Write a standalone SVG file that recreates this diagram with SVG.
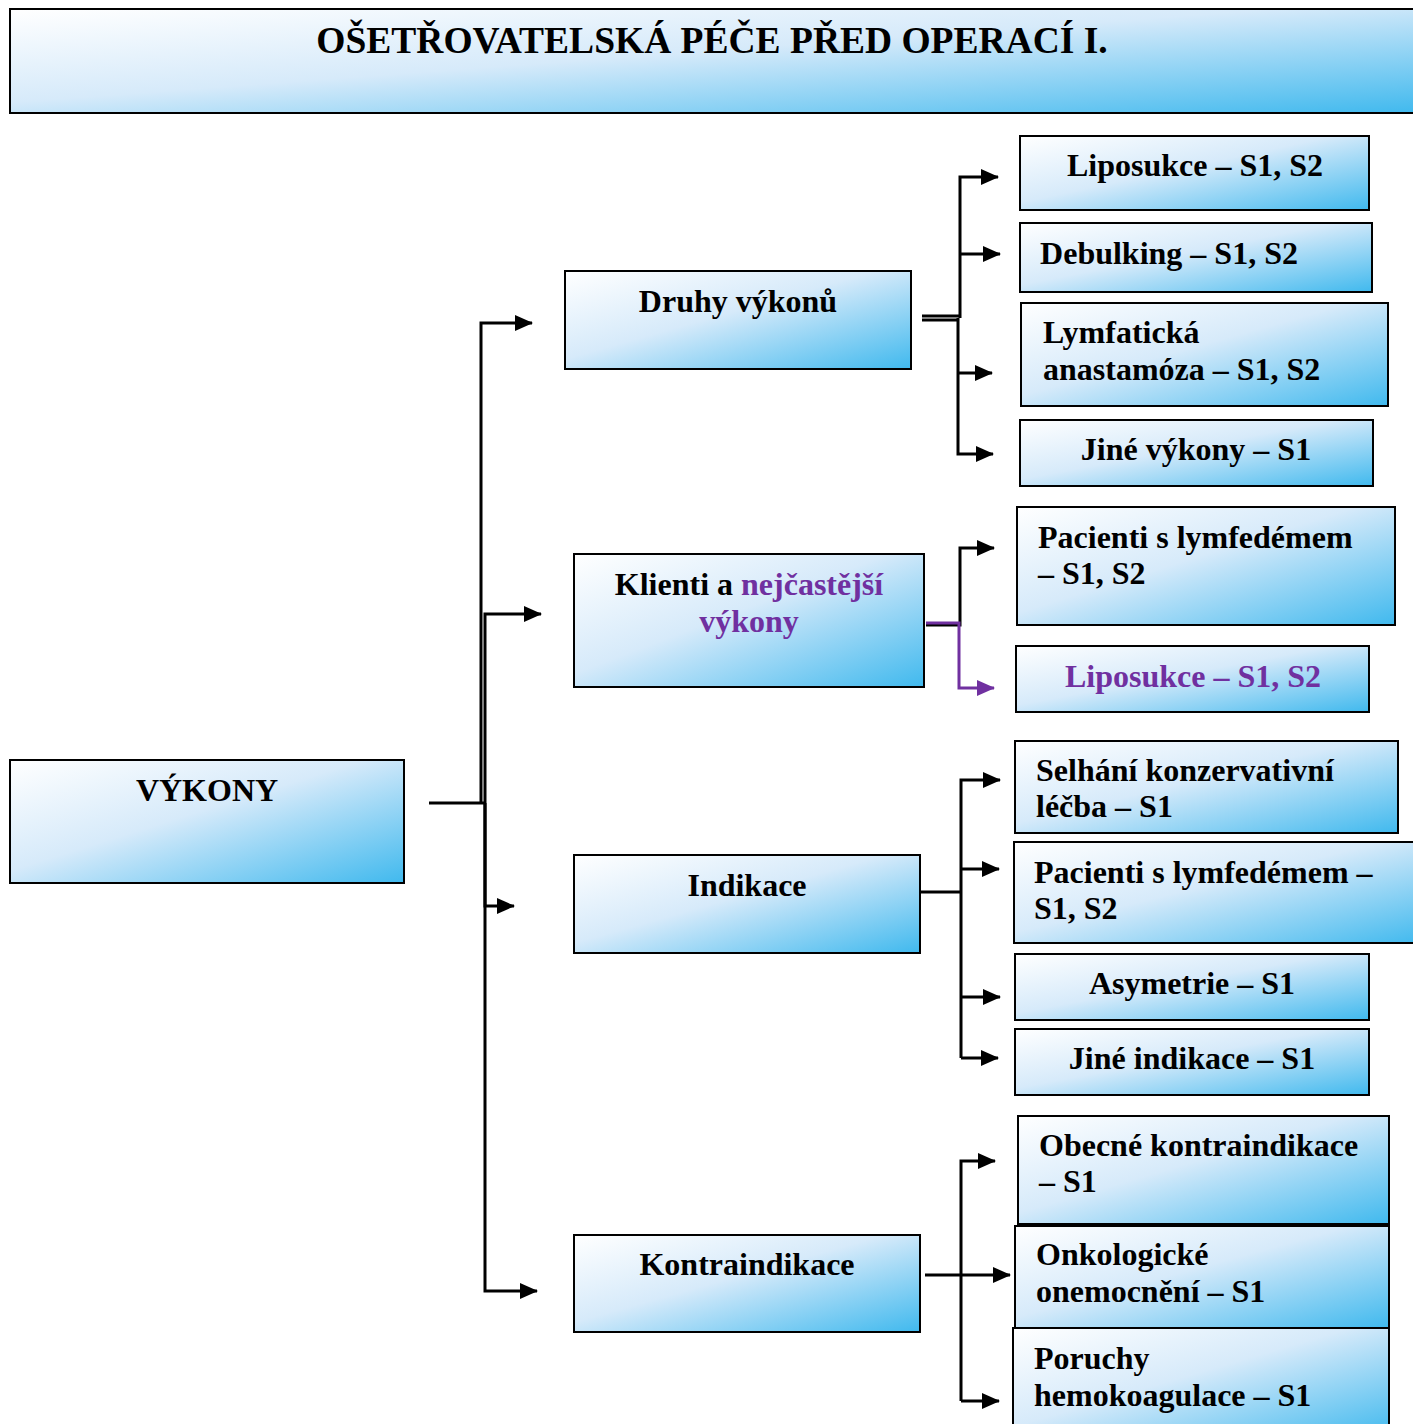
<svg xmlns="http://www.w3.org/2000/svg" width="1413" height="1424" viewBox="0 0 1413 1424">
<style>
.box{fill:url(#g);stroke:#000;stroke-width:2}
.t{font-family:"Liberation Serif","Times New Roman",serif;font-weight:bold;font-size:32px;fill:#000}
.c{text-anchor:middle}
.p{fill:#7030A0}
.ln{fill:none;stroke:#000;stroke-width:3}
.lp{fill:none;stroke:#7030A0;stroke-width:3}
</style>
<defs>
<linearGradient id="g" x1="0" y1="0" x2="1" y2="1">
<stop offset="0" stop-color="#ffffff"/>
<stop offset="0.45" stop-color="#d6eafa"/>
<stop offset="1" stop-color="#40b9ee"/>
</linearGradient>
<marker id="a" markerUnits="userSpaceOnUse" markerWidth="18" markerHeight="16" refX="17" refY="8" orient="auto"><path d="M0,0 L18,8 L0,16 Z" fill="#000"/></marker>
<marker id="ap" markerUnits="userSpaceOnUse" markerWidth="18" markerHeight="16" refX="17" refY="8" orient="auto"><path d="M0,0 L18,8 L0,16 Z" fill="#7030A0"/></marker>
</defs>
<rect width="1413" height="1424" fill="#fff"/>
<g id="title"><rect class="box" x="10" y="9" width="1410" height="104"/><text class="t c" x="712" y="53" style="font-size:37.5px">OŠETŘOVATELSKÁ PÉČE PŘED OPERACÍ I.</text></g>
<g id="vykony"><rect class="box" x="10" y="760" width="394" height="123"/><text class="t c" x="207" y="801">VÝKONY</text></g>
<g id="druhy"><rect class="box" x="565" y="271" width="346" height="98"/><text class="t c" x="738" y="312">Druhy výkonů</text></g>
<g id="klienti"><rect class="box" x="574" y="554" width="350" height="133"/><text class="t c" x="749" y="595">Klienti a <tspan class="p">nejčastější</tspan></text><text class="t c p" x="749" y="632">výkony</text></g>
<g id="indikace"><rect class="box" x="574" y="855" width="346" height="98"/><text class="t c" x="747" y="896">Indikace</text></g>
<g id="kontra"><rect class="box" x="574" y="1235" width="346" height="97"/><text class="t c" x="747" y="1275">Kontraindikace</text></g>
<g id="lipo1"><rect class="box" x="1020" y="136" width="349" height="74"/><text class="t c" x="1195" y="176">Liposukce – S1, S2</text></g>
<g id="debulking"><rect class="box" x="1020" y="223" width="352" height="69"/><text class="t c" x="1169" y="264">Debulking – S1, S2</text></g>
<g id="lymf"><rect class="box" x="1021" y="303" width="367" height="103"/><text class="t" x="1043" y="343">Lymfatická</text><text class="t" x="1043" y="380">anastamóza – S1, S2</text></g>
<g id="jinevykony"><rect class="box" x="1020" y="420" width="353" height="66"/><text class="t c" x="1196" y="460">Jiné výkony – S1</text></g>
<g id="pacienti1"><rect class="box" x="1017" y="507" width="378" height="118"/><text class="t" x="1038" y="548">Pacienti s lymfedémem</text><text class="t" x="1038" y="584">– S1, S2</text></g>
<g id="lipo2"><rect class="box" x="1016" y="646" width="353" height="66"/><text class="t c p" x="1193" y="687">Liposukce – S1, S2</text></g>
<g id="selhani"><rect class="box" x="1015" y="741" width="383" height="92"/><text class="t" x="1036" y="781">Selhání konzervativní</text><text class="t" x="1036" y="817">léčba – S1</text></g>
<g id="pacienti2"><rect class="box" x="1014" y="842" width="410" height="101"/><text class="t" x="1034" y="883">Pacienti s lymfedémem –</text><text class="t" x="1034" y="919">S1, S2</text></g>
<g id="asymetrie"><rect class="box" x="1015" y="954" width="354" height="66"/><text class="t c" x="1192" y="994">Asymetrie – S1</text></g>
<g id="jineindikace"><rect class="box" x="1015" y="1029" width="354" height="66"/><text class="t c" x="1192" y="1069">Jiné indikace – S1</text></g>
<g id="obecne"><rect class="box" x="1018" y="1116" width="371" height="108"/><text class="t" x="1039" y="1156">Obecné kontraindikace</text><text class="t" x="1039" y="1192">– S1</text></g>
<g id="onko"><rect class="box" x="1015" y="1226" width="374" height="102"/><text class="t" x="1036" y="1265">Onkologické</text><text class="t" x="1036" y="1302">onemocnění – S1</text></g>
<g id="poruchy"><rect class="box" x="1013" y="1328" width="376" height="110"/><text class="t" x="1034" y="1369">Poruchy</text><text class="t" x="1034" y="1406">hemokoagulace – S1</text></g>
<g id="connectors">
<path class="ln" d="M429,803 H484"/>
<path class="ln" d="M481,803 V323 H532" marker-end="url(#a)"/>
<path class="ln" d="M485,803 V614 H541" marker-end="url(#a)"/>
<path class="ln" d="M485,803 V906 H514" marker-end="url(#a)"/>
<path class="ln" d="M485,803 V1291 H537" marker-end="url(#a)"/>
<path class="ln" d="M922,316 H960"/>
<path class="ln" d="M922,320 H958"/>
<path class="ln" d="M960,318 V177 H998" marker-end="url(#a)"/>
<path class="ln" d="M960,254 H1000" marker-end="url(#a)"/>
<path class="ln" d="M958,318 V454 H993" marker-end="url(#a)"/>
<path class="ln" d="M958,373 H992" marker-end="url(#a)"/>
<path class="ln" d="M926,625 H960 V548 H994" marker-end="url(#a)"/>
<path class="lp" d="M926,623 H959 V688 H994" marker-end="url(#ap)"/>
<path class="ln" d="M921,892 H961"/>
<path class="ln" d="M961,1058 V780 H1000" marker-end="url(#a)"/>
<path class="ln" d="M961,869 H999" marker-end="url(#a)"/>
<path class="ln" d="M961,997 H1000" marker-end="url(#a)"/>
<path class="ln" d="M961,1058 H998" marker-end="url(#a)"/>
<path class="ln" d="M925,1275 H1010" marker-end="url(#a)"/>
<path class="ln" d="M961,1401 V1161 H995" marker-end="url(#a)"/>
<path class="ln" d="M961,1401 H999" marker-end="url(#a)"/>
</g>
</svg>
